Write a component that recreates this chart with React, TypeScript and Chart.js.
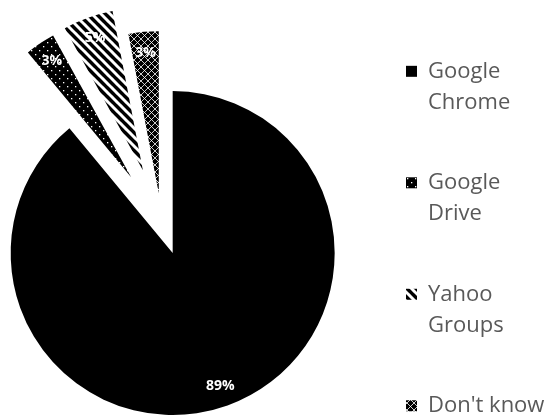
import React, { useEffect, useRef } from 'react';
import { Chart, registerables } from 'chart.js';

Chart.register(...registerables);

// ---- data ----
const categories: string[][] = [
  ['Google', 'Chrome'],
  ['Google', 'Drive'],
  ['Yahoo', 'Groups'],
  ["Don't know"],
];
const shares: number[] = [89, 3, 5, 3];
const shareLabels: string[] = shares.map((v) => `${v}%`);

// ---- style ----
const explodeDistance: number[] = [33, 54, 55, 29]; // px each slice is pulled out along its bisector
const patternKinds: string[] = ['solid', 'dots', 'stripes', 'lattice'];
const PIE_RADIUS = 162;
const LABEL_FRACTION = 0.87;

// canvas is a little larger than the window and shifted so the pie sits where the original does
const CANVAS_LEFT = -34;
const CANVAS_TOP = -31;
const CANVAS_W = 582;
const CANVAS_H = 506;

function makePattern(kind: string): CanvasPattern | string {
  if (kind === 'solid') return '#000000';
  const size = kind === 'stripes' ? 9 : kind === 'dots' ? 8 : 7;
  const tile = document.createElement('canvas');
  tile.width = size;
  tile.height = size;
  const c = tile.getContext('2d')!;
  c.fillStyle = '#000000';
  c.fillRect(0, 0, size, size);
  c.fillStyle = '#ffffff';
  c.strokeStyle = '#ffffff';
  if (kind === 'dots') {
    c.fillRect(1, 1, 1.3, 1.3);
    c.fillRect(5, 5, 1.3, 1.3);
  } else if (kind === 'stripes') {
    c.lineWidth = 3;
    for (const k of [-size, 0, size]) {
      c.beginPath();
      c.moveTo(k - 1, -1);
      c.lineTo(k + size + 1, size + 1);
      c.stroke();
    }
  } else if (kind === 'lattice') {
    c.lineWidth = 0.8;
    for (const k of [-size, 0, size]) {
      c.beginPath();
      c.moveTo(k - 1, -1);
      c.lineTo(k + size + 1, size + 1);
      c.stroke();
      c.beginPath();
      c.moveTo(k + size + 1, -1);
      c.lineTo(k - 1, size + 1);
      c.stroke();
    }
  }
  const p = c.createPattern(tile, 'repeat');
  return p || '#000000';
}

// pull each slice out along its bisector (exploded pie)
const explodeSlices = {
  id: 'explodeSlices',
  afterDatasetUpdate(chart: any, args: any) {
    args.meta.data.forEach((arc: any, i: number) => {
      const d = explodeDistance[i] || 0;
      const mid = (arc.startAngle + arc.endAngle) / 2;
      arc.x += Math.cos(mid) * d;
      arc.y += Math.sin(mid) * d;
    });
  },
};

const sliceLabels = {
  id: 'sliceLabels',
  afterDatasetsDraw(chart: any) {
    const meta = chart.getDatasetMeta(0);
    const ctx = chart.ctx;
    ctx.save();
    ctx.fillStyle = '#ffffff';
    ctx.font = 'bold 14px "Open Sans"';
    ctx.textAlign = 'center';
    ctx.textBaseline = 'middle';
    meta.data.forEach((arc: any, i: number) => {
      const mid = (arc.startAngle + arc.endAngle) / 2;
      const r = arc.outerRadius * LABEL_FRACTION;
      ctx.fillText(shareLabels[i], arc.x + Math.cos(mid) * r, arc.y + Math.sin(mid) * r);
    });
    ctx.restore();
  },
};

export default function App() {
  const ref = useRef<HTMLCanvasElement | null>(null);

  useEffect(() => {
    if (!ref.current) return;
    const fills = patternKinds.map(makePattern);
    const chart = new Chart(ref.current, {
      type: 'pie',
      data: {
        labels: categories as any,
        datasets: [
          {
            data: shares,
            backgroundColor: fills as any,
            borderWidth: 0,
            radius: PIE_RADIUS,
            clip: false,
          } as any,
        ],
      },
      options: {
        responsive: false,
        animation: false,
        events: [],
        radius: PIE_RADIUS,
        layout: { padding: 0 },
        plugins: {
          tooltip: { enabled: false },
          legend: {
            position: 'right',
            align: 'end',
            maxWidth: 191,
            labels: {
              boxWidth: 11,
              boxHeight: 11,
              padding: 49,
              color: '#595959',
              font: { family: '"Open Sans"', size: 22, lineHeight: 1.42 },
            },
          },
        },
      } as any,
      plugins: [explodeSlices, sliceLabels],
    });
    return () => chart.destroy();
  }, []);

  return (
    <div
      style={{
        position: 'absolute',
        left: 0,
        top: 0,
        width: 548,
        height: 415,
        overflow: 'hidden',
        background: '#ffffff',
      }}
    >
      <canvas
        ref={ref}
        width={CANVAS_W}
        height={CANVAS_H}
        style={{ position: 'absolute', left: CANVAS_LEFT, top: CANVAS_TOP, display: 'block' }}
      />
    </div>
  );
}
